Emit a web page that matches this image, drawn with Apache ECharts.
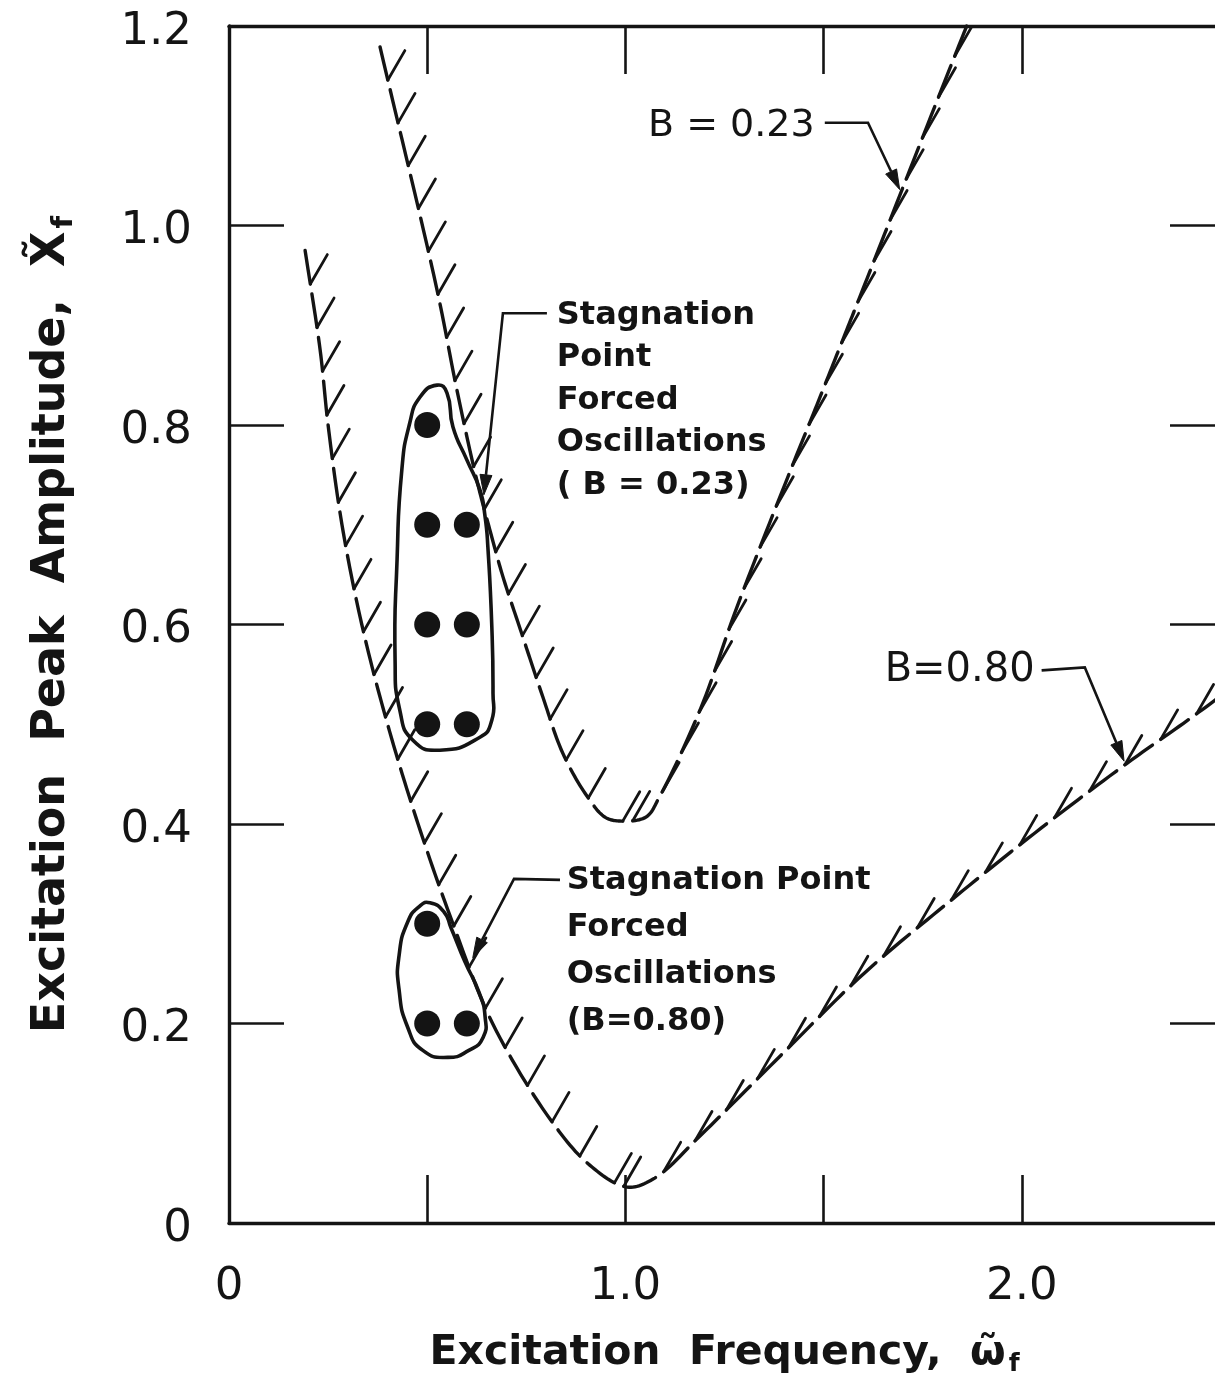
<!DOCTYPE html>
<html>
<head>
<meta charset="utf-8">
<title>Stagnation point forced oscillations</title>
<script src="https://cdn.jsdelivr.net/npm/echarts@6/dist/echarts.min.js"></script>
<style>
  html, body { margin: 0; padding: 0; background: #ffffff; }
  #chart { width: 1215px; height: 1386px; }
</style>
</head>
<body>
<div id="chart"></div>
<script>
// ---- values -------------------------------------------------------------
// labelled ticks on each axis
const xLabelValues = [0, 1, 2];
const yLabelValues = [0, 0.2, 0.4, 0.6, 0.8, 1.0, 1.2];

// stability boundary, B = 0.23  [frequency, amplitude]
const boundaryB023 = [
  [0.381, 1.179], [0.525, 0.935], [0.575, 0.835], [0.625, 0.745], [0.660, 0.692],
  [0.691, 0.648], [0.735, 0.595], [0.792, 0.527], [0.842, 0.471], [0.903, 0.428],
  [0.948, 0.407], [0.986, 0.403], [1.052, 0.407], [1.087, 0.428], [1.190, 0.516],
  [1.281, 0.617], [1.422, 0.760], [1.483, 0.820], [1.541, 0.878], [1.591, 0.928],
  [1.692, 1.030], [1.811, 1.150], [1.861, 1.200]
];

// stability boundary, B = 0.80
const boundaryB080 = [
  [0.192, 0.975], [0.230, 0.875], [0.250, 0.800], [0.285, 0.700], [0.335, 0.600],
  [0.400, 0.500], [0.477, 0.400], [0.565, 0.300], [0.665, 0.200], [0.812, 0.103],
  [0.910, 0.058], [1.004, 0.036], [1.074, 0.045], [1.190, 0.088], [1.392, 0.168],
  [1.604, 0.251], [1.823, 0.324], [2.033, 0.391], [2.252, 0.457], [2.429, 0.507],
  [2.504, 0.529]
];

// measured forced-oscillation points
const pointsB023 = [[0.5, 0.8], [0.5, 0.7], [0.6, 0.7], [0.5, 0.6], [0.6, 0.6], [0.5, 0.5], [0.6, 0.5]];
const pointsB080 = [[0.5, 0.3], [0.5, 0.2], [0.6, 0.2]];

// outlines enclosing each group of points
const regionB023 = [
  [0.525, 0.840], [0.550, 0.832], [0.565, 0.798], [0.600, 0.765], [0.633, 0.735],
  [0.646, 0.708], [0.653, 0.678], [0.663, 0.598], [0.666, 0.531], [0.663, 0.504],
  [0.633, 0.487], [0.532, 0.474], [0.464, 0.484], [0.431, 0.514], [0.419, 0.564],
  [0.424, 0.665], [0.436, 0.755], [0.456, 0.802], [0.482, 0.828]
];
const regionB080 = [
  [0.507, 0.321], [0.542, 0.312], [0.560, 0.296], [0.595, 0.262], [0.631, 0.231],
  [0.646, 0.207], [0.641, 0.186], [0.605, 0.173], [0.552, 0.166], [0.489, 0.173],
  [0.451, 0.196], [0.429, 0.234], [0.429, 0.268], [0.451, 0.302], [0.482, 0.318]
];

// ---- callout layout (data coordinates) ----------------------------------
const callouts = [
  { lines: ['B = 0.23'], at: [1.057, 1.100], step: 0,
    font: '38px "DejaVu Sans"',
    leader: [[1.503, 1.103], [1.612, 1.103], [1.692, 1.036]] },
  { lines: ['B=0.80'], at: [1.654, 0.554], step: 0,
    font: '40px "DejaVu Sans"',
    leader: [[2.050, 0.554], [2.159, 0.557], [2.258, 0.463]] },
  { lines: ['Stagnation', 'Point', 'Forced', 'Oscillations', '( B = 0.23)'],
    at: [0.827, 0.910], step: 0.0426,
    font: 'bold 32px "DejaVu Sans"',
    leader: [[0.802, 0.912], [0.691, 0.912], [0.643, 0.730]] },
  { lines: ['Stagnation Point', 'Forced', 'Oscillations', '(B=0.80)'],
    at: [0.852, 0.343], step: 0.047,
    font: 'bold 32px "DejaVu Sans"',
    leader: [[0.835, 0.344], [0.719, 0.345], [0.615, 0.266]] }
];

const INK = '#141414';

// ---- drawing helpers ----------------------------------------------------
// centripetal Catmull-Rom through pixel points
function splinePath(pts, n) {
  const ext = [
    [2 * pts[0][0] - pts[1][0], 2 * pts[0][1] - pts[1][1]],
    ...pts,
    [2 * pts[pts.length - 1][0] - pts[pts.length - 2][0],
     2 * pts[pts.length - 1][1] - pts[pts.length - 2][1]]
  ];
  const knot = (t, a, b) => t + Math.max(Math.sqrt(Math.hypot(b[0] - a[0], b[1] - a[1])), 1e-4);
  const mix = (a, b, ta, tb, t) => [
    a[0] * (tb - t) / (tb - ta) + b[0] * (t - ta) / (tb - ta),
    a[1] * (tb - t) / (tb - ta) + b[1] * (t - ta) / (tb - ta)
  ];
  const out = [];
  for (let i = 1; i < ext.length - 2; i++) {
    const p0 = ext[i - 1], p1 = ext[i], p2 = ext[i + 1], p3 = ext[i + 2];
    const t0 = 0, t1 = knot(t0, p0, p1), t2 = knot(t1, p1, p2), t3 = knot(t2, p2, p3);
    for (let k = 0; k < n; k++) {
      const t = t1 + (t2 - t1) * k / n;
      const a1 = mix(p0, p1, t0, t1, t), a2 = mix(p1, p2, t1, t2, t), a3 = mix(p2, p3, t2, t3, t);
      const b1 = mix(a1, a2, t0, t2, t), b2 = mix(a2, a3, t1, t3, t);
      out.push(mix(b1, b2, t1, t2, t));
    }
  }
  out.push(pts[pts.length - 1]);
  return out;
}

// dashed boundary with short hatch strokes on the unstable side
function boundaryItem(curve) {
  const DASH = 34, GAP = 10, HATCH = 34, ANG = 60 * Math.PI / 180;
  return function (params, api) {
    if (params.dataIndex !== 0) return null;
    const path = splinePath(curve.map(p => api.coord(p)), 14);
    const cum = [0];
    for (let i = 1; i < path.length; i++) {
      cum.push(cum[i - 1] + Math.hypot(path[i][0] - path[i - 1][0], path[i][1] - path[i - 1][1]));
    }
    const total = cum[cum.length - 1];
    const at = s => {
      let i = 1;
      while (i < cum.length - 1 && cum[i] < s) i++;
      const f = (s - cum[i - 1]) / Math.max(cum[i] - cum[i - 1], 1e-6);
      return [path[i - 1][0] + (path[i][0] - path[i - 1][0]) * f,
              path[i - 1][1] + (path[i][1] - path[i - 1][1]) * f];
    };
    const children = [];
    for (let s = 0; s < total; s += DASH + GAP) {
      const e = Math.min(s + DASH, total);
      const seg = [at(s)];
      for (let i = 0; i < cum.length; i++) if (cum[i] > s && cum[i] < e) seg.push(path[i]);
      seg.push(at(e));
      children.push({
        type: 'polyline', shape: { points: seg },
        style: { stroke: INK, lineWidth: 3.4, fill: null, lineCap: 'round' }
      });
      if (e - s > DASH * 0.6) {
        const low = seg[0][1] > seg[seg.length - 1][1] ? seg[0] : seg[seg.length - 1];
        children.push({
          type: 'line',
          shape: { x1: low[0], y1: low[1], x2: low[0] + HATCH * Math.cos(ANG), y2: low[1] - HATCH * Math.sin(ANG) },
          style: { stroke: INK, lineWidth: 2.8, lineCap: 'round' }
        });
      }
    }
    return { type: 'group', children };
  };
}

function regionItem(outline) {
  return function (params, api) {
    if (params.dataIndex !== 0) return null;
    return {
      type: 'polygon',
      shape: { points: outline.map(p => api.coord(p)), smooth: 0.55 },
      style: { fill: null, stroke: INK, lineWidth: 3.6 }
    };
  };
}

function calloutItem(params, api) {
  const c = callouts[params.dataIndex];
  const children = [];
  c.lines.forEach((txt, i) => {
    const p = api.coord([c.at[0], c.at[1] - i * c.step]);
    children.push({
      type: 'text', x: p[0], y: p[1],
      style: { text: txt, font: c.font, fill: INK, textAlign: 'left', textVerticalAlign: 'middle',
               align: 'left', verticalAlign: 'middle' }
    });
  });
  const pts = c.leader.map(p => api.coord(p));
  const tip = pts[pts.length - 1], prev = pts[pts.length - 2];
  const len = Math.hypot(tip[0] - prev[0], tip[1] - prev[1]);
  const ux = (tip[0] - prev[0]) / len, uy = (tip[1] - prev[1]) / len;
  const L = 20, W = 6;
  const base = [tip[0] - ux * L, tip[1] - uy * L];
  children.push({
    type: 'polyline', shape: { points: pts.slice(0, -1).concat([base]) },
    style: { stroke: INK, lineWidth: 2.6, fill: null }
  });
  children.push({
    type: 'polygon',
    shape: { points: [tip, [base[0] - uy * W, base[1] + ux * W], [base[0] + uy * W, base[1] - ux * W]] },
    style: { fill: INK, stroke: INK, lineWidth: 1 }
  });
  return { type: 'group', children };
}

// ---- chart --------------------------------------------------------------
const chart = echarts.init(document.getElementById('chart'), null, { renderer: 'canvas' });

const axisLine = { show: true, onZero: false, lineStyle: { color: INK, width: 3.4 } };
const tick = len => ({ show: true, inside: true, length: len, lineStyle: { color: INK, width: 2.6 } });
const labelFont = { fontFamily: '"DejaVu Sans"', fontSize: 45, color: INK };
const fmt = v => (v === 0 ? '0' : v.toFixed(1));
const nameRich = size => ({
  t: { fontFamily: '"DejaVu Sans"', fontWeight: 'bold', fontSize: size, color: INK },
  w: { fontFamily: '"DejaVu Sans"', fontWeight: 'bold', fontSize: size, color: INK },
  s: { fontFamily: '"DejaVu Sans"', fontWeight: 'bold', fontSize: Math.round(size * 0.62), color: INK,
       padding: [Math.round(size * 0.55), 0, 0, 3] }
});

chart.setOption({
  animation: false,
  backgroundColor: '#ffffff',
  grid: { left: 229, right: -5, top: 26, bottom: 163, outerBoundsMode: 'none', containLabel: false },
  xAxis: [
    {
      type: 'value', position: 'bottom', min: 0, max: 2.5, interval: 0.5,
      axisLine, axisTick: tick(48), splitLine: { show: false },
      axisLabel: Object.assign({ margin: 42, formatter: v => (xLabelValues.includes(v) ? fmt(v) : '') }, labelFont),
      name: '{t|Excitation  Frequency,  }{w|ω\u0303}{s|f}',
      nameLocation: 'middle', nameGap: 106,
      nameTextStyle: { rich: nameRich(41) }
    },
    {
      type: 'value', position: 'top', min: 0, max: 2.5, interval: 0.5,
      axisLine, axisTick: tick(48), splitLine: { show: false }, axisLabel: { show: false }
    }
  ],
  yAxis: [
    {
      type: 'value', position: 'left', min: 0, max: 1.2, interval: 0.2,
      axisLine, axisTick: tick(55), splitLine: { show: false },
      axisLabel: Object.assign({
        margin: 37, verticalAlign: 'top', lineHeight: 12,
        formatter: v => (yLabelValues.some(t => Math.abs(t - v) < 1e-9) ? fmt(v) : '')
      }, labelFont),
      name: '{t|Excitation  Peak  Amplitude,  }{w|X\u0303}{s|f}',
      nameLocation: 'middle', nameGap: 150, nameRotate: 90,
      nameTextStyle: { rich: nameRich(46) }
    },
    {
      type: 'value', position: 'right', min: 0, max: 1.2, interval: 0.2,
      axisLine, axisTick: tick(50), splitLine: { show: false }, axisLabel: { show: false }
    }
  ],
  series: [
    { type: 'custom', name: 'B = 0.23', data: boundaryB023, encode: { x: 0, y: 1 },
      renderItem: boundaryItem(boundaryB023), silent: true, z: 3 },
    { type: 'custom', name: 'B = 0.80', data: boundaryB080, encode: { x: 0, y: 1 },
      renderItem: boundaryItem(boundaryB080), silent: true, z: 3 },
    { type: 'custom', name: 'region B = 0.23', data: regionB023, encode: { x: 0, y: 1 },
      renderItem: regionItem(regionB023), silent: true, z: 4 },
    { type: 'custom', name: 'region B = 0.80', data: regionB080, encode: { x: 0, y: 1 },
      renderItem: regionItem(regionB080), silent: true, z: 4 },
    { type: 'scatter', name: 'forced oscillations B = 0.23', data: pointsB023, symbol: 'circle',
      symbolSize: 26, itemStyle: { color: INK, opacity: 1 }, silent: true, z: 5 },
    { type: 'scatter', name: 'forced oscillations B = 0.80', data: pointsB080, symbol: 'circle',
      symbolSize: 26, itemStyle: { color: INK, opacity: 1 }, silent: true, z: 5 },
    { type: 'custom', name: 'callouts', data: callouts.map(c => c.at), encode: { x: 0, y: 1 },
      renderItem: calloutItem, silent: true, z: 6 }
  ]
});
</script>
</body>
</html>
